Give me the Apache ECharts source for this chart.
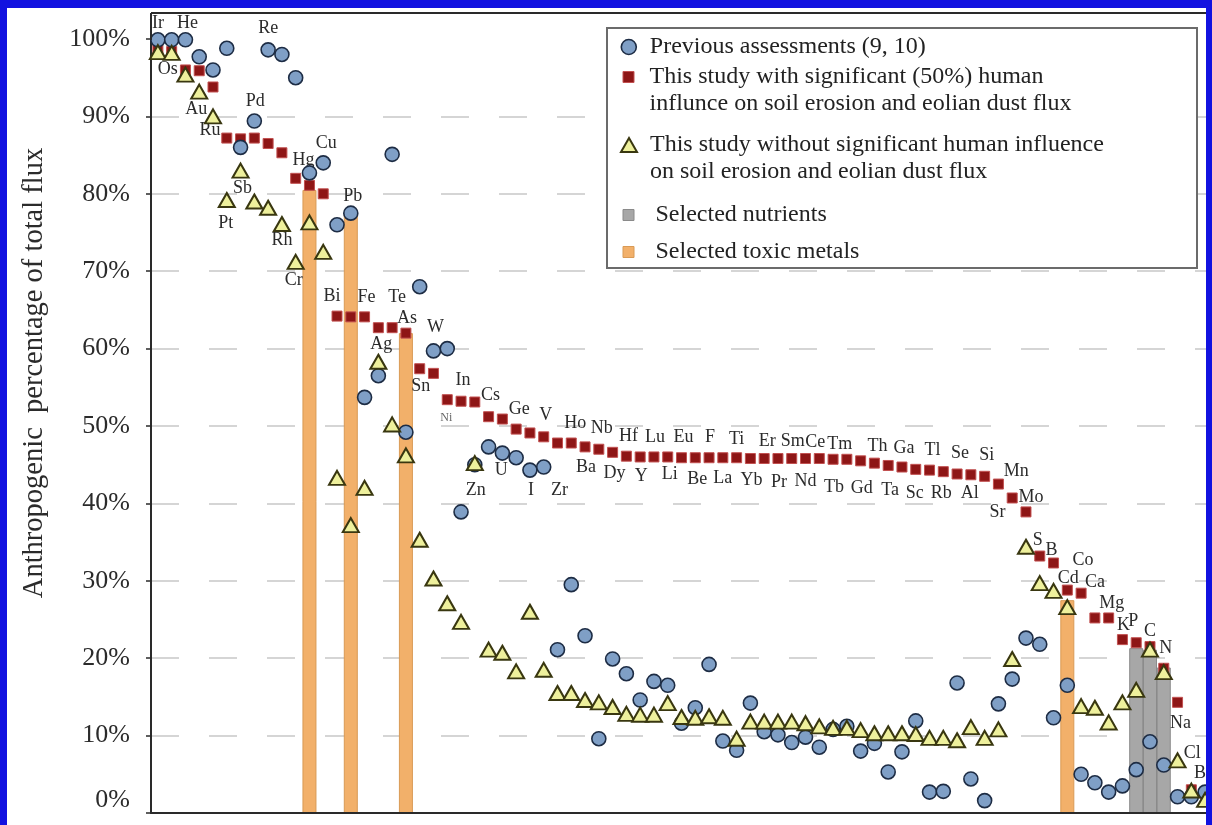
<!DOCTYPE html>
<html>
<head>
<meta charset="utf-8">
<title>Anthropogenic percentage of total flux</title>
<script src="https://cdn.jsdelivr.net/npm/echarts@6/dist/echarts.min.js"></script>
<style>
  html, body { margin: 0; padding: 0; background: #fff; }
  #chart { width: 1212px; height: 825px; }
</style>
</head>
<body>
<div id="chart"></div>
<script>
// Elements, ordered by the anthropogenic share found in this study
const elements = [
  'Ir','Os','He','Au','Ru','Pt','Sb','Pd','Re','Rh',
  'Cr','Hg','Cu','Bi','Pb','Fe','Ag','Te','As','Sn',
  'W','Ni','In','Zn','Cs','U','Ge','I','V','Zr',
  'Ho','Ba','Nb','Dy','Hf','Y','Lu','Li','Eu','Be',
  'F','La','Ti','Yb','Er','Pr','Sm','Nd','Ce','Tb',
  'Tm','Gd','Th','Ta','Ga','Sc','Tl','Rb','Se','Al',
  'Si','Sr','Mn','Mo','S','B','Cd','Co','Ca','Mg',
  'K','P','C','N','Na','Cl','Br'
];

// This study, with significant (50%) human influence on soil erosion and eolian dust flux (%)
const withHumanInfluence = [
  98.6, 98.4, 96.0, 95.9, 93.8, 87.2, 87.1, 87.2, 86.5, 85.3,
  82.0, 81.1, 80.0, 64.2, 64.1, 64.1, 62.7, 62.7, 62.0, 57.4,
  56.8, 53.4, 53.2, 53.1, 51.2, 50.9, 49.6, 49.1, 48.6, 47.8,
  47.8, 47.3, 47.0, 46.6, 46.1, 46.0, 46.0, 46.0, 45.9, 45.9,
  45.9, 45.9, 45.9, 45.8, 45.8, 45.8, 45.8, 45.8, 45.8, 45.7,
  45.7, 45.5, 45.2, 44.9, 44.7, 44.4, 44.3, 44.1, 43.8, 43.7,
  43.5, 42.5, 40.7, 38.9, 33.2, 32.3, 28.8, 28.4, 25.2, 25.2,
  22.4, 22.0, 21.5, 18.7, 14.3, 3.0, 2.5
];

// Previous assessments (9, 10) (%)
const previousAssessments = [
  99.9, 99.9, 99.9, 97.7, 96.0, 98.8, 86.0, 89.4, 98.6, 98.0,
  95.0, 82.7, 84.0, 76.0, 77.5, 53.7, 56.5, 85.1, 49.2, 68.0,
  59.7, 60.0, 38.9, 45.0, 47.3, 46.5, 45.9, 44.3, 44.7, 21.1,
  29.5, 22.9, 9.6, 19.9, 18.0, 14.6, 17.0, 16.5, 11.6, 13.6,
  19.2, 9.3, 8.1, 14.2, 10.5, 10.1, 9.1, 9.8, 8.5, 10.8,
  11.2, 8.0, 9.0, 5.3, 7.9, 11.9, 2.7, 2.8, 16.8, 4.4,
  1.6, 14.1, 17.3, 22.6, 21.8, 12.3, 16.5, 5.0, 3.9, 2.7,
  3.5, 5.6, 9.2, 6.2, 2.1, 2.1, 2.7
];

// This study, without significant human influence on soil erosion and eolian dust flux (%)
const withoutHumanInfluence = [
  98.3, 98.2, 95.4, 93.2, 90.0, 79.2, 83.0, 79.0, 78.2, 76.1,
  71.2, 76.3, 72.5, 43.3, 37.2, 42.0, 58.3, 50.2, 46.2, 35.3,
  30.3, 27.1, 24.7, 45.2, 21.1, 20.7, 18.3, 26.0, 18.5, 15.5,
  15.5, 14.6, 14.3, 13.7, 12.8, 12.7, 12.7, 14.2, 12.4, 12.3,
  12.5, 12.3, 9.6, 11.8, 11.8, 11.8, 11.8, 11.6, 11.2, 11.0,
  11.0, 10.7, 10.3, 10.3, 10.3, 10.2, 9.7, 9.7, 9.4, 11.1,
  9.7, 10.8, 19.9, 34.4, 29.7, 28.7, 26.6, 13.8, 13.6, 11.7,
  14.3, 15.9, 21.1, 18.2, 6.8, 2.9, 1.7
];

// Highlighted columns
const nutrientElements = ['P', 'C', 'N'];
const nutrientHeights  = [21.3, 21.1, 18.8];
const toxicElements    = ['Hg', 'Pb', 'As', 'Cd'];
const toxicHeights     = [80.5, 77.5, 62.0, 27.5];

// Series names shown in the legend
const NAME_PREV    = 'Previous assessments (9, 10)';
const NAME_WITH    = 'This study with significant (50%) human\ninflunce on soil erosion and eolian dust flux';
const NAME_WITHOUT = 'This study without significant human influence\non soil erosion and eolian dust flux';
const NAME_NUTR    = 'Selected nutrients';
const NAME_TOXIC   = 'Selected toxic metals';
const Y_TITLE      = 'Anthropogenic  percentage of total flux';

// Placement of each element name relative to its red square, [dx, dy] in px
const labelOffsets = [
  [0,-27],[-4,18],[2,-47],[-3,39],[-3,43],[-1,85],[2,49],[1,-37],[0,-115],[0,87],
  [-2,102],[-6,-25],[3,-51],[-5,-20],[2,-121],[2,-20],[3,17],[5,-30],[1,-15],[1,18],
  [2,-46],[-1,18],[2,-21],[1,88],[2,-21],[-1,51],[3,-20],[1,57],[2,-22],[2,47],
  [4,-20],[1,20],[3,-21],[2,21],[2,-20],[1,19],[1,-20],[2,17],[2,-20],[2,22],
  [1,-20],[0,21],[0,-18],[1,22],[3,-17],[1,24],[1,-17],[0,23],[-4,-16],[1,28],
  [-7,-15],[1,27],[3,-17],[2,25],[2,-19],[-1,24],[3,-20],[-2,22],[3,-21],[-1,19],
  [2,-21],[-1,28],[4,-27],[5,-15],[-2,-16],[-2,-13],[1,-12],[2,-33],[0,-36],[3,-15],
  [1,-14],[-3,-21],[0,-15],[2,-20],[3,21],[1,-37],[-2,-20]
];

const SERIF = "'Liberation Serif', 'Times New Roman', serif";

function columnSeries(names, heights) {
  const out = elements.map(() => '-');
  names.forEach((n, k) => { out[elements.indexOf(n)] = heights[k]; });
  return out;
}

const squareData = withHumanInfluence.map((v, i) => {
  const label = { offset: labelOffsets[i] };
  if (elements[i] === 'Ni') { label.fontSize = 12; label.color = '#666'; }
  return { value: v, label: label };
});

const STYLE_PREV    = { color: '#7f9fc6', borderColor: '#1d2c44', borderWidth: 1.6, opacity: 1 };
const STYLE_WITH    = { color: '#8e1616', borderColor: '#c25050', borderWidth: 1, opacity: 1 };
const STYLE_WITHOUT = { color: '#eef09c', borderColor: '#393710', borderWidth: 2, opacity: 1 };
const STYLE_NUTR    = { color: '#a7a7a7', borderColor: '#8a8a8a', borderWidth: 1 };
const STYLE_TOXIC   = { color: '#f2b06a', borderColor: '#d99a55', borderWidth: 1 };

const LEGEND_LINE = 26.5;
const legendText = { fontFamily: SERIF, fontSize: 24, lineHeight: LEGEND_LINE, color: '#222' };
const twoLine = name => '\u00a0\n' + name;

// the legend box is placed by its drawn content, so "left" is the icon's left edge
function legendEntry(name, icon, style, iconCenterX, iconSize, centerY, itemWidth, itemHeight, lines) {
  const blockHeight = (lines === 2 ? 3 : 1) * LEGEND_LINE;
  return {
    orient: 'vertical',
    left: iconCenterX - iconSize / 2,
    top: centerY - blockHeight / 2,
    padding: 0,
    itemWidth: itemWidth,
    itemHeight: itemHeight,
    symbolKeepAspect: true,
    selectedMode: false,
    z: 10,
    textStyle: legendText,
    formatter: lines === 2 ? twoLine : undefined,
    data: [{ name: name, icon: icon, itemStyle: style }]
  };
}

const chart = echarts.init(document.getElementById('chart'), null, { renderer: 'canvas' });

chart.setOption({
  animation: false,
  backgroundColor: '#ffffff',
  grid: { left: 151, right: 0, top: 39, bottom: 12, containLabel: false },
  xAxis: {
    type: 'category',
    data: elements,
    boundaryGap: true,
    axisLine: { lineStyle: { color: '#2a2a2a', width: 2 } },
    axisTick: { show: false },
    axisLabel: { show: false },
    splitLine: { show: false },
    z: 6
  },
  yAxis: {
    type: 'value',
    min: 0,
    max: 100,
    interval: 10,
    axisLine: { show: true, lineStyle: { color: '#2a2a2a', width: 2 } },
    axisTick: { show: true, length: 5, lineStyle: { color: '#2a2a2a', width: 1.5 } },
    axisLabel: {
      formatter: '{value}%', margin: 21, fontFamily: SERIF, fontSize: 26, color: '#2b2b2b',
      verticalAlignMinLabel: 'bottom'
    },
    splitLine: {
      show: true, showMinLine: false, showMaxLine: false,
      lineStyle: { type: [28, 30], color: '#c8c8c8', width: 1.5 }
    }
  },
  legend: [
    legendEntry(NAME_PREV, 'circle', STYLE_PREV, 628, 15, 47, 32, 15, 1),
    legendEntry(NAME_WITH, 'path://M0,0H10V10H0Z', STYLE_WITH, 628, 11, 77, 32, 11, 2),
    legendEntry(NAME_WITHOUT, 'path://M8,0L16,14H0Z', STYLE_WITHOUT, 628, 16, 145, 32, 14, 2),
    legendEntry(NAME_NUTR, 'path://M0,0H10V10H0Z', STYLE_NUTR, 628, 11, 215, 44, 11, 1),
    legendEntry(NAME_TOXIC, 'path://M0,0H10V10H0Z', STYLE_TOXIC, 628, 11, 252, 44, 11, 1)
  ],
  graphic: [
    // legend frame
    { type: 'rect', shape: { x: 607, y: 28, width: 590, height: 240 },
      style: { fill: '#ffffff', stroke: '#6b6b6b', lineWidth: 2 }, z: 6 },
    // plot frame above the 100% tick
    { type: 'line', shape: { x1: 151, y1: 13, x2: 1212, y2: 13 },
      style: { stroke: '#2a2a2a', lineWidth: 2 }, z: 6 },
    { type: 'line', shape: { x1: 151, y1: 13, x2: 151, y2: 40 },
      style: { stroke: '#2a2a2a', lineWidth: 2 }, z: 6 },
    // y axis title
    { type: 'text', x: 35, y: 373, rotation: Math.PI / 2,
      style: { text: Y_TITLE, fontFamily: SERIF, fontSize: 28.5, fill: '#2b2b2b',
               align: 'center', verticalAlign: 'middle' }, z: 6 },
    // outer border
    { type: 'rect', shape: { x: 0, y: 0, width: 7, height: 825 }, style: { fill: '#1212e0' }, z: 20 },
    { type: 'rect', shape: { x: 0, y: 0, width: 1212, height: 8 }, style: { fill: '#1212e0' }, z: 20 },
    { type: 'rect', shape: { x: 1206, y: 0, width: 6, height: 825 }, style: { fill: '#1212e0' }, z: 20 }
  ],
  series: [
    {
      name: NAME_TOXIC, type: 'bar', data: columnSeries(toxicElements, toxicHeights),
      barWidth: 14, barGap: '-100%', itemStyle: STYLE_TOXIC, z: 1
    },
    {
      name: NAME_NUTR, type: 'bar', data: columnSeries(nutrientElements, nutrientHeights),
      barWidth: 14, barGap: '-100%', itemStyle: STYLE_NUTR, z: 1
    },
    {
      name: NAME_WITH, type: 'scatter', symbol: 'rect', symbolSize: 10,
      data: squareData, itemStyle: STYLE_WITH, z: 3,
      label: {
        show: true, position: 'inside',
        formatter: p => elements[p.dataIndex],
        fontFamily: SERIF, fontSize: 18, color: '#2b2b2b'
      }
    },
    {
      name: NAME_PREV, type: 'scatter', symbol: 'circle', symbolSize: 14,
      data: previousAssessments, itemStyle: STYLE_PREV, z: 4
    },
    {
      name: NAME_WITHOUT, type: 'scatter', symbol: 'triangle', symbolSize: [16, 14],
      data: withoutHumanInfluence, itemStyle: STYLE_WITHOUT, z: 5
    }
  ]
});
</script>
</body>
</html>
